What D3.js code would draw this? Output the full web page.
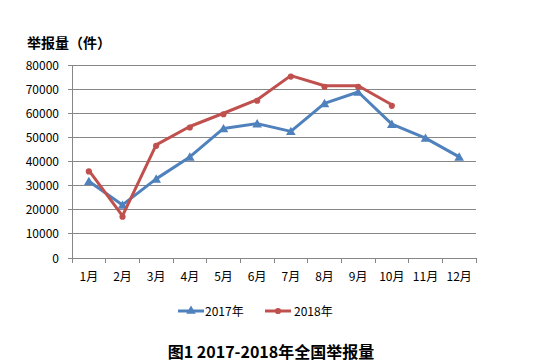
<!DOCTYPE html>
<html><head><meta charset="utf-8">
<script src="https://cdn.jsdelivr.net/npm/d3@7"></script>
<style>body{margin:0;background:#fff;font-family:"Microsoft YaHei","Noto Sans CJK SC",sans-serif;}</style>
</head><body>
<svg id="c" width="548" height="362"></svg>
<script>
const months = ["1月","2月","3月","4月","5月","6月","7月","8月","9月","10月","11月","12月"];
const yTicks = [0,10000,20000,30000,40000,50000,60000,70000,80000];
const s2017 = [31800,22000,32800,41900,53700,55700,52500,64100,68800,55500,49700,41900];
const s2018 = [36300,17500,46900,54500,60000,65600,75600,71400,71400,63500];
const seriesNames = ["2017年","2018年"];
const colors = ["#4F81BD","#C0504D"];

const svg = d3.select("#c");
const L=72,R=476,T=65,B=258;
const x = d3.scaleBand().domain(months).range([L,R]).padding(0);
const y = d3.scaleLinear().domain([0,80000]).range([B,T]);
const font = "'Noto Sans CJK SC',sans-serif";

svg.append("g").selectAll("line").data(yTicks).join("line")
  .attr("x1",L-4).attr("x2",R).attr("y1",d=>y(d)).attr("y2",d=>y(d))
  .attr("stroke","#868686").attr("stroke-width",1).attr("shape-rendering","crispEdges");
svg.append("line").attr("x1",L).attr("x2",L).attr("y1",T).attr("y2",B)
  .attr("stroke","#868686").attr("shape-rendering","crispEdges");
const xt = months.map((m,i)=>x(m)).concat([R]);
svg.append("g").selectAll("line").data(xt).join("line")
  .attr("x1",d=>d).attr("x2",d=>d).attr("y1",B).attr("y2",B+5)
  .attr("stroke","#868686").attr("shape-rendering","crispEdges");
svg.append("g").selectAll("text").data(yTicks).join("text")
  .attr("x",L-13).attr("y",d=>y(d)+4.5).attr("text-anchor","end")
  .attr("font-family",font).attr("font-size",12).attr("fill","#000").text(d=>d);
svg.append("g").selectAll("text").data(months).join("text")
  .attr("x",d=>x(d)+x.bandwidth()/2).attr("y",B+23).attr("text-anchor","middle")
  .attr("font-family",font).attr("font-size",12).attr("fill","#000").text(d=>d);

const line = d3.line().x((d,i)=>x(months[i])+x.bandwidth()/2).y(d=>y(d));
const data = [s2017,s2018];
data.forEach((s,k)=>{
  svg.append("path").attr("d",line(s)).attr("fill","none").attr("stroke",colors[k])
    .attr("stroke-width",3).attr("stroke-linejoin","round");
  const sym = k===0 ? d3.symbol(d3.symbolTriangle,40) : d3.symbol(d3.symbolCircle,30);
  svg.append("g").selectAll("path").data(s).join("path")
    .attr("transform",(d,i)=>`translate(${x(months[i])+x.bandwidth()/2},${y(d)+1})`)
    .attr("d",sym).attr("fill",colors[k]);
});

const lg = [{x:178,tx:205},{x:265,tx:294}];
lg.forEach((p,k)=>{
  svg.append("line").attr("x1",p.x).attr("x2",p.x+26).attr("y1",311).attr("y2",311)
    .attr("stroke",colors[k]).attr("stroke-width",3);
  const sym = k===0 ? d3.symbol(d3.symbolTriangle,40) : d3.symbol(d3.symbolCircle,30);
  svg.append("path").attr("d",sym).attr("transform",`translate(${p.x+13},311)`).attr("fill",colors[k]);
  svg.append("text").attr("x",p.tx).attr("y",315.5).attr("font-family",font).attr("font-size",12)
    .attr("fill","#000").text(seriesNames[k]);
});

svg.append("text").attr("x",27).attr("y",48).attr("font-family",font).attr("font-size",14)
  .attr("font-weight","bold").attr("fill","#000").text("举报量（件）");
svg.append("text").attr("x",271).attr("y",358).attr("text-anchor","middle").attr("font-family",font)
  .attr("font-size",16).attr("font-weight","bold").attr("fill","#000").text("图1 2017-2018年全国举报量");
</script>
</body></html>
